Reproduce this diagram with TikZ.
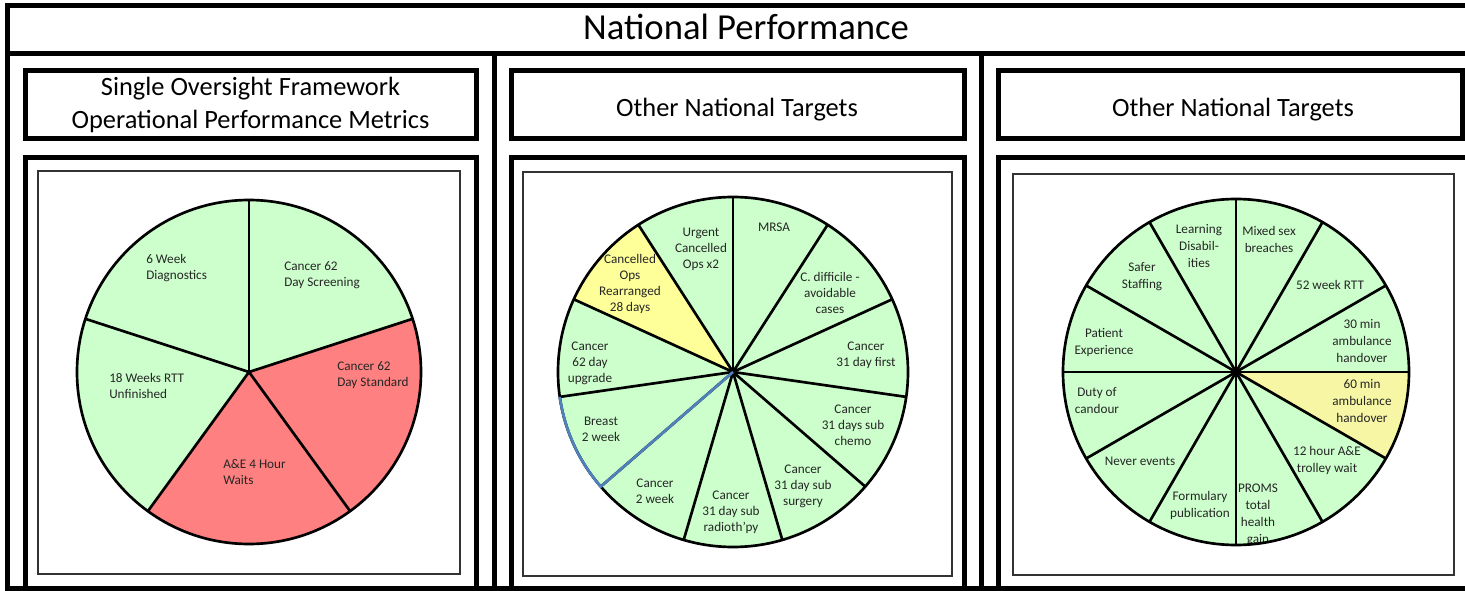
\documentclass[tikz,border=0pt]{standalone}
\usepackage{fontspec}
\setmainfont{Carlito}
\usetikzlibrary{positioning,calc}

\definecolor{okgreen}{HTML}{CCFFCC}
\definecolor{badred}{HTML}{FF8080}
\definecolor{warnyellow}{HTML}{FFFF99}
\definecolor{paleyellow}{HTML}{F6F6A4}
\definecolor{edgeblue}{HTML}{4F81BD}

\begin{document}
\begin{tikzpicture}[x=0.75pt,y=0.75pt,
    frame/.style={draw,line width=3.75pt},
    panel/.style={draw=black!80,line width=1.5pt,fill=white},
    headtext/.style={inner sep=0pt,align=center,
		font=\fontsize{19.8pt}{24.75pt}\selectfont},
% Slice label style
    slice/.style={inner sep=0pt,align=center,text=black!85,
		font=\fontsize{9.9pt}{12pt}\selectfont},
    wedge/.style={draw,line width=2pt}
    ]
\useasboundingbox (0,0) rectangle (1465,590);
\clip (0,0) rectangle (1465,590);
\fill[white] (0,0) rectangle (1465,590);

% outer frame and title bar
\draw[frame] (7.5,1.5) rectangle (1495,584.7);
\draw[frame] (7.5,536) -- (1495,536);
\node[inner sep=0pt,anchor=base,font=\fontsize{27.5pt}{33pt}\selectfont] (title) at (746,550.7) {National Performance};
\draw[frame] (494,536) -- (494,-10);
\draw[frame] (981,536) -- (981,-10);

% column headers
\draw[frame] (25,451) rectangle (476,519.5);
\draw[frame] (511,451) rectangle (964.5,519.5);
\draw[frame] (998,451) rectangle (1462.5,519.5);
\node[headtext,anchor=base] (sof) at (250.5,461.5) {Single Oversight Framework\\Operational Performance Metrics};
\node[headtext,anchor=base] (ontA) at (737,473.3) {Other National Targets};
\node[headtext,anchor=base] (ontB) at (1233,473.3) {Other National Targets};

% pie boxes
\draw[frame] (25,-20) rectangle (476,432);
\draw[frame] (511,-20) rectangle (964.5,432);
\draw[frame] (998,-20) rectangle (1495,432);
\draw[panel] (38,16) rectangle (460,419);
\draw[panel] (522.5,14) rectangle (952,417.5);
\draw[panel] (1012.5,15) rectangle (1454,416);

% Pie 1 : SOF metrics
\begin{scope}[shift={(249,218)}]
\coordinate (cA) at (0,0);
\foreach \a/\b/\c in {90/18/okgreen,18/-54/badred,-54/-126/badred,-126/-198/okgreen,162/90/okgreen}
  \fill[\c] (cA) -- (\a:172) arc[start angle=\a,end angle=\b,radius=172] -- cycle;
\foreach \a in {90,18,-54,-126,162}
  \draw[wedge] (cA) -- (\a:172);
\draw[wedge] (cA) circle[radius=172];
\node[slice,anchor=west,align=left] (diag) at (-103,104) {6 Week\\Diagnostics};
\node[slice,anchor=west,align=left] (screen) at (35,97) {Cancer 62\\Day Screening};
\node[slice,anchor=west,align=left] (stand) at (88,-3) {Cancer 62\\Day Standard};
\node[slice,anchor=west,align=left] (rtt) at (-140,-14) {18 Weeks RTT\\Unfinished};
\node[slice,anchor=west,align=left] (aande) at (-26,-100) {A\&E 4 Hour\\Waits};
\end{scope}

% Pie 2 : other national targets
\begin{scope}[shift={(733,218)}]
\coordinate (cB) at (0,0);
\fill[okgreen] (cB) circle[radius=175];
\fill[warnyellow] (cB) -- ({90-9*360/11}:175) arc[start angle={90-9*360/11},end angle={90-10*360/11},radius=175] -- cycle;
\foreach \k in {0,...,10}
  \draw[wedge] (cB) -- ({90-\k*360/11}:175);
\draw[wedge] (cB) circle[radius=175];
\draw[wedge,edgeblue] (cB) -- ({90-7*360/11}:175) arc[start angle={90-7*360/11},end angle={90-8*360/11},radius=175];
\node[slice] (mrsa) at (41,145) {MRSA};
\node[slice] (urgent) at (-32,123) {Urgent\\Cancelled\\Ops x2};
\node[slice] (rearr) at (-103,88) {Cancelled\\Ops\\Rearranged\\28 days};
\node[slice] (cdiff) at (97,79) {C. difficile -\\avoidable\\cases};
\node[slice] (first) at (133,17) {Cancer\\31 day first};
\node[slice] (chemo) at (120,-53) {Cancer\\31 days sub\\chemo};
\node[slice] (surg) at (70,-114) {Cancer\\31 day sub\\surgery};
\node[slice] (radio) at (-2,-140) {Cancer\\31 day sub\\radioth'py};
\node[slice] (twowk) at (-78,-119) {Cancer\\2 week};
\node[slice] (breast) at (-132,-57) {Breast\\2 week};
\node[slice] (upgr) at (-143,9) {Cancer\\62 day\\upgrade};
\end{scope}

% Pie 3 : other national targets
\begin{scope}[shift={(1236,218)},slice/.append style={font=\fontsize{9.9pt}{12.75pt}\selectfont}]
\coordinate (cC) at (0,0);
\fill[okgreen] (cC) circle[radius=173];
\fill[paleyellow] (cC) -- (0:173) arc[start angle=0,end angle=-30,radius=173] -- cycle;
\begin{scope}
\clip (cC) circle[radius=173];
\node[slice] (mixed) at (33,133) {Mixed sex\\breaches};
\node[slice] (rttwk) at (94,87) {52 week RTT};
\node[slice] (amb30) at (126,31) {30 min\\ambulance\\handover};
\node[slice] (amb60) at (126,-29) {60 min\\ambulance\\handover};
\node[slice] (trolley) at (91,-88) {12 hour A\&E\\trolley wait};
\node[slice] (proms) at (22,-143) {PROMS\\total\\health\\gain};
\node[slice] (formu) at (-36,-133) {Formulary\\publication};
\node[slice] (never) at (-96,-89) {Never events};
\node[slice] (duty) at (-139,-29) {Duty of\\candour};
\node[slice] (patient) at (-132,29) {Patient\\Experience};
\node[slice] (safer) at (-94,95) {Safer\\Staffing};
\node[slice] (learn) at (-37,126) {Learning\\Disabil-\\ities};
\end{scope}
\foreach \a in {90,60,...,-240}
  \draw[wedge] (cC) -- (\a:173);
\draw[wedge] (cC) circle[radius=173];
\end{scope}
\end{tikzpicture}
\end{document}
